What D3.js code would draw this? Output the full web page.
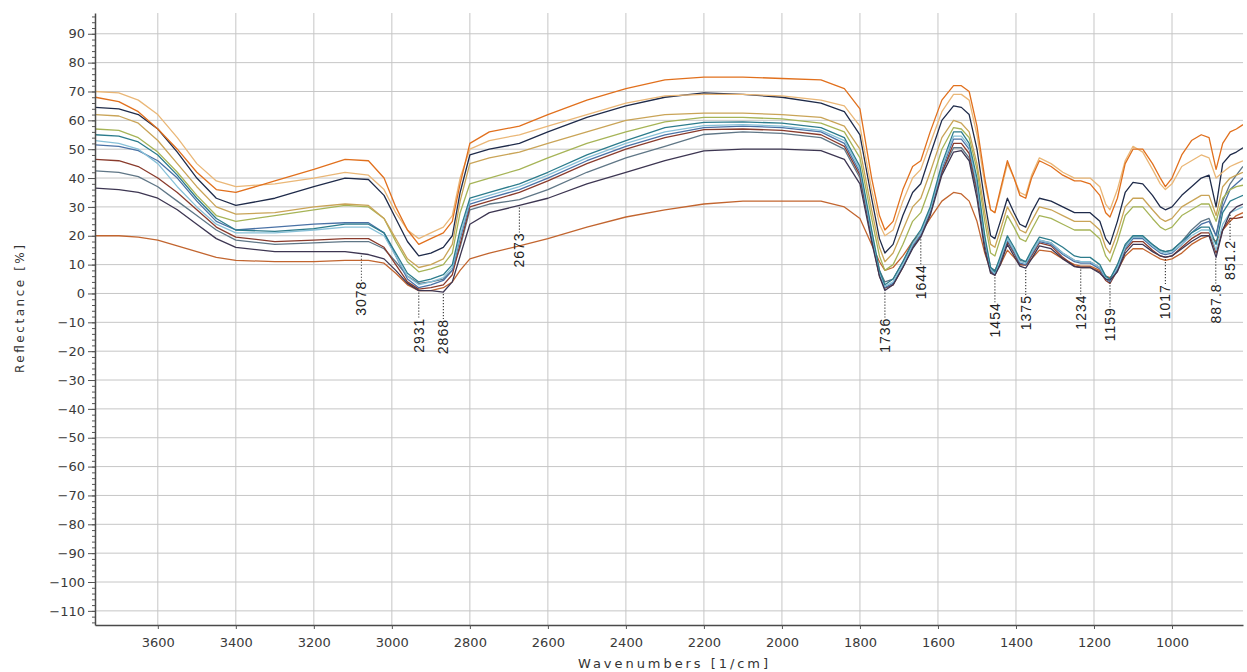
<!DOCTYPE html>
<html>
<head>
<meta charset="utf-8">
<script src="https://cdn.jsdelivr.net/npm/d3@7"></script>
<style>
  body { margin: 0; background: #fff; }
  svg { display: block; }
  .tick text { font-family: "DejaVu Sans", sans-serif; fill: #3a3a3a; }
</style>
</head>
<body>
<div id="chart"></div>
<script>
// wavenumbers [1/cm], shared by every spectrum
const wavenumbers = [3760,3700,3650,3600,3550,3500,3450,3400,3300,3200,
  3120,3060,3020,2990,2960,2931,2900,2868,2845,2825,
  2800,2750,2673,2600,2500,2400,2300,2200,2100,2000,
  1900,1840,1800,1770,1750,1736,1715,1690,1665,1644,
  1620,1590,1560,1540,1520,1500,1480,1465,1454,1440,
  1422,1405,1390,1375,1360,1340,1310,1280,1250,1234,
  1210,1185,1170,1159,1140,1120,1100,1075,1050,1030,
  1017,1000,975,950,925,905,887,870,851,835,
  818];

// reflectance [%], one array per spectrum
const specOrange = [68,66.5,63,57,50,42,36,35,39,43,
  46.5,46,40,30,22,17,19,21,25,38,
  52,56,58,62,67,71,74,75,75,74.5,
  74,71,64,40,27,22,25,36,44,46,
  56,67,72,72,70,58,40,29,28,36,
  46,40,34,33,40,46,44,41,39,39,
  38,34,28,26.5,33,45,50,50,45,40,
  37,40,48,53,55,54,43,52,56,57,
  58.5];
const specTan = [70,69.5,67,62,54,45,39,37,38,40,
  42,41,36,28,22,19,21,23,27,40,
  50,53,55,58,62,66,68.5,69,69,68.5,
  67,65,58,36,24,20,22,32,40,43,
  52,63,69,69,67,55,38,29,28,35,
  45,40,35,34,41,47,45,42,40,40,
  40,37,31,29,36,46,51,49,43,38,
  36,38,44,46,48,47,40,42,44,45,
  46];
const specNavy = [64.5,64,62,57,49,40,33,30.5,33,37,
  40,39.5,34,26,18,13,14,16,20,35,
  48,50,52,56,61,65,68,69.5,69,68,
  66,63,55,33,19,14,17,27,35,38,
  48,60,65,64.5,62,50,32,20,19,25,
  33,28,24,23,28,33,32,30,28,28,
  28,25,19,17,25,35,38.5,38,34,30,
  29,30,34,37,40,41,30,45,48,49,
  50.5];
const specOlive = [62,61.5,59,53,45,37,30,27.5,28,30,
  31,30.5,26,19,12,9,10,12,17,32,
  45,47,49,52,56,60,62,62.5,62.5,62,
  61,58,50,29,16,11,14,22,30,33,
  42,54,60,59,56,45,28,17,16,22,
  30,26,22,21,25,30,29,27,25,25,
  25,22,16,14,21,30,33,33,29,26,
  25,26,30,32,34,34,27,37,40,41,
  42];
const specGreen = [57,56.5,54,49,42,34,27,25,27,29,
  30.5,30,26,18,11,7.5,8.5,10,14,28,
  38,40,43,47,52,56,59.5,61,61,60.5,
  59,56,47,26,13,8,10,17,25,28,
  37,50,57.5,57,54,43,25,14,13,19,
  27,23,19,18,22,27,26,24,22,22,
  22,19,13,11,18,27,30,30,26,23,
  22,23,27,29,31,31,25,33,36,37,
  37.5];
const specTeal = [55,54.5,52.5,48,41,33,26,22,21.5,22.5,
  24,24,21,14,7,4,5,6.5,10,22,
  33,35,38,42,48,53,57.5,59.3,59.5,59,
  57.5,54,44,22,8,3,5,11,18,22,
  30,45,56,56,52,40,20,9,7.5,13,
  20,16,12,11,15,19.5,18.5,16,13,12.5,
  12.5,10,6,5,10,17,20,20,17,15,
  14.5,15,18,21,23,23,17,28,32,33,
  34];
const specSky = [53,52,50,45,37,30,24,21,21,22,
  23,23,20,13,6,3,4,5.5,9,20,
  32,34,37,41,47,52,56,58.2,58.5,58,
  56.5,53,43,21,7,2.5,4,10,17,21,
  29,44,54.5,54.5,51,38,19,8.5,7,12,
  19,15,11,10.5,14,18.5,17.5,14,11.5,11,
  11,9,5.5,4.5,9,16,19.5,19.5,16.5,14.5,
  14,14.5,17,20,22,22,15,24,28,29,
  30];
const specSteel = [51.5,51,49.5,46,40,32,25,22,23,24,
  24.5,24.5,21,13,5,2,3,4.5,8,19,
  31,33,36,40,46,51,55,57.5,58,57.5,
  56,52,42,20,6.5,2,3.5,9.5,16.5,20.5,
  28.5,43,53.5,53.5,50,37,18,8,6.5,11.5,
  18.5,14.5,10.5,10,13.5,18,17,13.5,11,10.5,
  10.5,8.5,5,4,8.5,15.5,19,19,16,14,
  13.5,14,17,21,24,25,20,30,36,38,
  40];
const specRed = [46.5,46,44,40,35,29,23,19.5,18,18.5,
  19,19,16,10,4,1.5,2,3,6.5,17,
  30,32,35,39,45,50,54,56.8,57,56.5,
  55,51,41,19,6,1.8,3,9,16,20,
  28,42,52,52,48.5,36,17,7.5,6.3,11,
  18,14,10,9.8,13,17.5,16.5,12.5,9.5,9,
  9,7.5,4.5,3.5,8,15,18,18,15,13,
  12.5,13,16,19,21,21,14,22,26,26,
  26.5];
const specSlate = [42.5,42,40.5,37,32,27,22,18.5,17,17.5,
  18,18,15.5,11,6,3.5,4,5,8,16,
  29,31,32.5,36,42,47,51,55.1,56,55.5,
  54,50,40,20,8,4,5,11,17,21,
  29,42,50.5,50.5,47,35,18,9,8,12,
  19,15,11.5,11,14,18.5,17.5,14,11.5,11,
  11,9,6,5,9.5,16.5,19.5,19.5,17,15,
  14.5,15,18,22,25,26,20,32,38,41,
  44];
const specPicked = [36.5,36,35,33,29,24,19,16,14.5,14.5,
  14.5,13.5,12,8,3.5,1,1,0.5,4,13,
  24,28,30.5,33,38,42,46,49.4,50,50,
  49.5,46.5,38,18,6,1,3,9,15.5,19.5,
  27,41,49,49.5,46,33,15,7,6.3,10,
  17,13,9.5,8.8,12,16.5,15.5,12,9.3,9,
  9,7,5,4.6,7.5,14,17,17,14.5,13,
  12.6,13,15.5,18,20,20,12.5,22,28,30,
  31];
const specBrown = [20,20,19.5,18.5,16.5,14.5,12.5,11.5,11,11,
  11.5,11.5,10.5,7,3,1,1,2,4,8,
  12,14,16.5,19,23,26.5,29,31,32,32,
  32,30,26,17,11,8,9,13,18,21,
  26,32,35,34.5,32,25,14,8,7.5,10,
  15,12.5,10,10,12,15,14.5,12,10,9.5,
  9.5,8,6,5.5,8,13,15.5,15.5,13.5,12,
  11.5,12,14,17,19,20,18,22,25,27,
  28];

// peak picks on the selected spectrum
const peakPositions = [3078, 2931, 2868, 2673, 1736, 1644, 1454, 1375, 1234, 1159, 1017, 887.8, 851.2];
const peakLabels = ["3078", "2931", "2868", "2673", "1736", "1644", "1454", "1375", "1234", "1159", "1017", "887.8", "851.2"];

const xTicks = d3.range(1000, 3601, 200);
const yTicks = d3.range(-110, 91, 10);

const spectra = [
  { values: specBrown, color: "#c2652f" },
  { values: specSlate, color: "#5f7686" },
  { values: specRed, color: "#8a3b2c" },
  { values: specSteel, color: "#4a72a6" },
  { values: specSky, color: "#88c1d8" },
  { values: specTeal, color: "#2c7c8c" },
  { values: specGreen, color: "#a6b457" },
  { values: specOlive, color: "#c9a457" },
  { values: specPicked, color: "#3d3652" },
  { values: specNavy, color: "#1f2b4a" },
  { values: specTan, color: "#eab777" },
  { values: specOrange, color: "#e1701d" }
];

const W = 1247, H = 672;
const margin = { top: 13, right: 4, bottom: 47, left: 95 };

const svg = d3.select("#chart").append("svg")
  .attr("width", W)
  .attr("height", H);

const x = d3.scaleLinear()
  .domain([3761, 818])
  .range([margin.left, W - margin.right]);

const y = d3.scaleLinear()
  .domain([-114.9, 97.2])
  .range([H - margin.bottom, margin.top]);

// grid
svg.append("g")
  .selectAll("line")
  .data(xTicks)
  .join("line")
  .attr("x1", d => x(d)).attr("x2", d => x(d))
  .attr("y1", margin.top).attr("y2", H - margin.bottom)
  .attr("stroke", "#c6c6c6");

svg.append("g")
  .selectAll("line")
  .data(yTicks)
  .join("line")
  .attr("x1", margin.left).attr("x2", W - margin.right)
  .attr("y1", d => y(d)).attr("y2", d => y(d))
  .attr("stroke", "#c6c6c6");

// spectra
svg.append("clipPath").attr("id", "plot-clip")
  .append("rect")
  .attr("x", margin.left).attr("y", margin.top)
  .attr("width", W - margin.left - margin.right)
  .attr("height", H - margin.top - margin.bottom);

const line = d3.line()
  .x((d, i) => x(wavenumbers[i]))
  .y(d => y(d));

svg.append("g")
  .attr("clip-path", "url(#plot-clip)")
  .selectAll("path")
  .data(spectra)
  .join("path")
  .attr("d", d => line(d.values))
  .attr("fill", "none")
  .attr("stroke", d => d.color)
  .attr("stroke-width", 1.3)
  .attr("stroke-linejoin", "round");

// peak labels with dotted leaders
const pickedAt = d3.scaleLinear().domain(wavenumbers).range(specPicked);
const gap = 27;

const peaks = svg.append("g")
  .selectAll("g")
  .data(peakPositions)
  .join("g")
  .attr("transform", d => "translate(" + x(d) + "," + y(pickedAt(d)) + ")");

peaks.append("line")
  .attr("x1", 0).attr("x2", 0)
  .attr("y1", 2).attr("y2", gap)
  .attr("stroke", "#333")
  .attr("stroke-width", 1.1)
  .attr("stroke-dasharray", "1.2,1.8");

peaks.append("text")
  .attr("transform", "translate(0," + gap + ")rotate(-90)")
  .attr("text-anchor", "end")
  .attr("dominant-baseline", "central")
  .style("font-family", "'Liberation Sans', Arial, sans-serif")
  .style("font-size", "14px")
  .style("letter-spacing", "1px")
  .attr("fill", "#222")
  .text((d, i) => peakLabels[i]);

// axes
const yAxis = svg.append("g")
  .attr("transform", "translate(" + margin.left + ",0)")
  .call(d3.axisLeft(y).tickValues(yTicks).tickSize(7).tickPadding(3).tickSizeOuter(0));
yAxis.selectAll("text").style("font-size", "13px");

svg.append("g")
  .attr("transform", "translate(" + margin.left + ",0)")
  .call(d3.axisLeft(y).tickValues(d3.range(-114, 97, 2)).tickSize(3).tickFormat("").tickSizeOuter(0))
  .call(g => g.select(".domain").remove());

const xAxis = svg.append("g")
  .attr("transform", "translate(0," + (H - margin.bottom) + ")")
  .call(d3.axisBottom(x).tickValues(xTicks).tickFormat(d3.format("d"))
    .tickSize(4).tickPadding(8.5).tickSizeOuter(0));
xAxis.selectAll("text").style("font-size", "13px");

svg.selectAll(".domain").attr("stroke", "#4a4a4a").attr("stroke-width", 1.5);
svg.selectAll(".tick line").attr("stroke", "#555");

// axis titles
svg.append("text")
  .attr("x", 673)
  .attr("y", 668)
  .attr("text-anchor", "middle")
  .attr("textLength", 190)
  .attr("lengthAdjust", "spacing")
  .style("font-family", "'DejaVu Sans', sans-serif")
  .style("font-size", "13px")
  .attr("fill", "#333")
  .text("Wavenumbers [1/cm]");

svg.append("text")
  .attr("transform", "translate(20,309)rotate(-90)")
  .attr("text-anchor", "middle")
  .attr("dominant-baseline", "central")
  .attr("textLength", 128)
  .attr("lengthAdjust", "spacing")
  .style("font-family", "'DejaVu Sans', sans-serif")
  .style("font-size", "12px")
  .attr("fill", "#333")
  .text("Reflectance [%]");
</script>
</body>
</html>
